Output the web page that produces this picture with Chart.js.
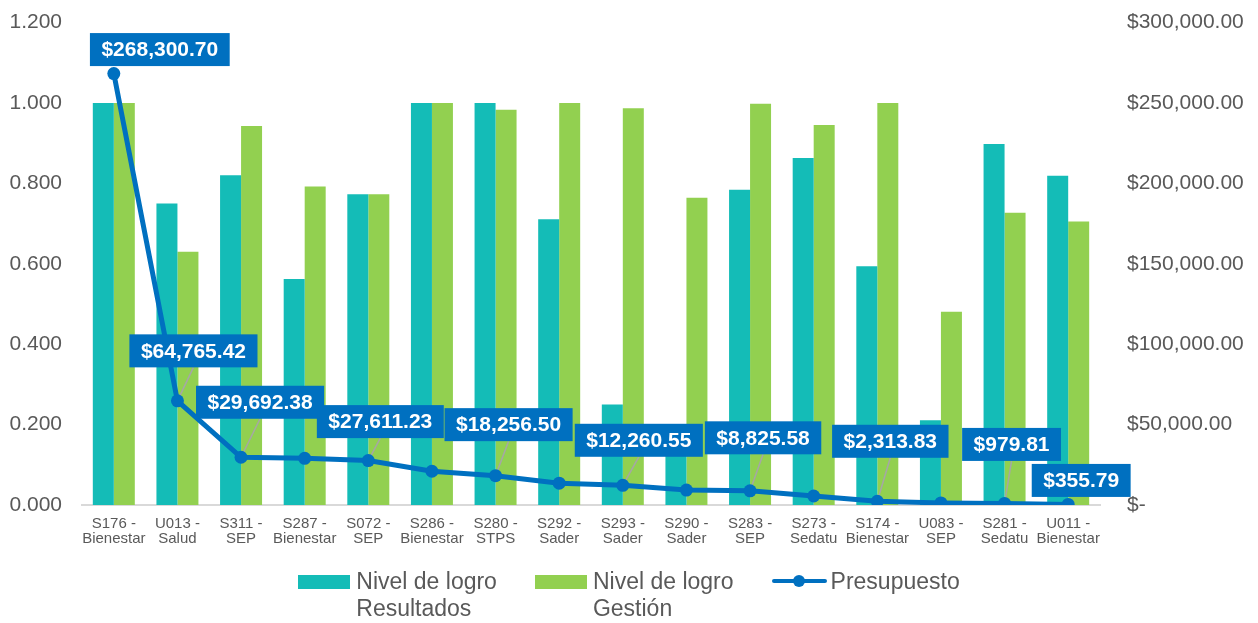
<!DOCTYPE html>
<html>
<head>
<meta charset="utf-8">
<script src="https://cdn.jsdelivr.net/npm/chart.js@4"></script>
<style>
  body { margin: 0; background: #fff; font-family: "Liberation Sans", Arial, sans-serif; }
  #wrap { position: relative; width: 1258px; height: 623px; overflow: hidden; }
  #chart { position: absolute; left: 0; top: -9px; }
  #legend { position: absolute; left: 0; top: 568px; width: 1258px; display: flex; justify-content: center; box-sizing: border-box; }
  .item { display: flex; align-items: flex-start; margin: 0 19px; }
  .sw { width: 52px; height: 14px; margin-top: 7px; margin-right: 6px; }
  .lineSw { position: relative; width: 55px; height: 27px; margin-right: 4px; }
  .lineSw .bar { position: absolute; left: 0; right: 0; top: 11px; height: 4px; background: #0070C0; border-radius: 2px; }
  .lineSw .dot { position: absolute; left: 21px; top: 7px; width: 12px; height: 12px; border-radius: 50%; background: #0070C0; }
  .txt { font-size: 23px; line-height: 27px; color: #595959; }
</style>
</head>
<body>
<div id="wrap">
  <canvas id="chart" width="1258" height="632"></canvas>
  <div id="legend"></div>
</div>
<script>
var codes = ["S176", "U013", "S311", "S287", "S072", "S286", "S280", "S292", "S293", "S290", "S283", "S273", "S174", "U083", "S281", "U011"];
var agencies = ["Bienestar", "Salud", "SEP", "Bienestar", "SEP", "Bienestar", "STPS", "Sader", "Sader", "Sader", "SEP", "Sedatu", "Bienestar", "SEP", "Sedatu", "Bienestar"];

var logroResultados = [1.0, 0.750, 0.820, 0.562, 0.773, 1.0, 1.0, 0.711, 0.250, 0.190, 0.784, 0.863, 0.594, 0.211, 0.898, 0.819];
var logroGestion = [1.0, 0.630, 0.943, 0.792, 0.773, 1.0, 0.983, 1.0, 0.987, 0.764, 0.998, 0.945, 1.0, 0.481, 0.727, 0.705];
var presupuesto = [268300.70, 64765.42, 29692.38, 29000, 27611.23, 21000, 18256.50, 13600, 12260.55, 9300, 8825.58, 5600, 2313.83, 1300, 979.81, 355.79];

var leftTicks = { min: 0, max: 1.2, step: 0.2 };
var rightTicks = { min: 0, max: 300000, step: 50000 };

// where each value box sits relative to its point (null = no label)
var labelOffsets = [[46, -24], [16, -50], [19, -55], null, [12, -39], null, [13, -51], null, [16, -45], null, [13, -53], null, [13, -60], null, [7, -59], [13, -24]];

var gray = "#595959";
var blue = "#0070C0";

function money(v) {
  return "$" + v.toLocaleString("en-US", { minimumFractionDigits: 2, maximumFractionDigits: 2 });
}

var labels = [];
for (var i = 0; i < codes.length; i++) {
  labels.push([codes[i] + " -", agencies[i]]);
}

function boxFor(ctx, meta, i) {
  var pt = meta.data[i];
  var off = labelOffsets[i];
  var text = money(presupuesto[i]);
  ctx.font = "bold 21px 'Liberation Sans', Arial, sans-serif";
  var w = ctx.measureText(text).width + 23;
  var h = 33;
  var cx = pt.x + off[0], cy = pt.y + off[1];
  return { text: text, x: cx - w / 2, y: cy - h / 2, w: w, h: h, cx: cx, cy: cy };
}

var valueLabels = {
  id: "valueLabels",
  beforeDatasetDraw: function (chart, args) {
    if (args.index !== 2) return;
    var ctx = chart.ctx;
    var meta = chart.getDatasetMeta(2);
    ctx.save();
    ctx.strokeStyle = "#A6A6A6";
    ctx.lineWidth = 1.5;
    for (var i = 0; i < presupuesto.length; i++) {
      if (!labelOffsets[i]) continue;
      var b = boxFor(ctx, meta, i);
      var pt = meta.data[i];
      var by = b.y + b.h;
      if (pt.y - by < 15) continue;
      ctx.beginPath();
      ctx.moveTo(pt.x, pt.y);
      ctx.lineTo(b.cx, by);
      ctx.stroke();
    }
    ctx.restore();
  },
  afterDatasetsDraw: function (chart) {
    var ctx = chart.ctx;
    var meta = chart.getDatasetMeta(2);
    ctx.save();
    for (var i = 0; i < presupuesto.length; i++) {
      if (!labelOffsets[i]) continue;
      var b = boxFor(ctx, meta, i);
      ctx.fillStyle = blue;
      ctx.fillRect(b.x, b.y, b.w, b.h);
      ctx.fillStyle = "#fff";
      ctx.textAlign = "center";
      ctx.textBaseline = "middle";
      ctx.fillText(b.text, b.cx, b.cy + 1);
    }
    ctx.restore();
  }
};

var chart = new Chart(document.getElementById("chart"), {
  type: "bar",
  data: {
    labels: labels,
    datasets: [
      {
        label: ["Nivel de logro", "Resultados"],
        data: logroResultados,
        backgroundColor: "#14BCB7",
        yAxisID: "y",
        order: 1,
        categoryPercentage: 0.66,
        barPercentage: 1.0
      },
      {
        label: ["Nivel de logro", "Gestión"],
        data: logroGestion,
        backgroundColor: "#92D050",
        yAxisID: "y",
        order: 1,
        categoryPercentage: 0.66,
        barPercentage: 1.0
      },
      {
        type: "line",
        label: "Presupuesto",
        data: presupuesto,
        borderColor: blue,
        backgroundColor: blue,
        borderWidth: 5,
        pointRadius: 6.5,
        pointBackgroundColor: blue,
        pointBorderWidth: 0,
        tension: 0,
        yAxisID: "y1",
        order: 0
      }
    ]
  },
  options: {
    responsive: false,
    animation: false,
    layout: { padding: { top: 4, left: 0, right: 0, bottom: 0 } },
    plugins: {
      legend: { display: false },
      tooltip: { enabled: false }
    },
    scales: {
      x: {
        grid: { display: false },
        border: { color: "#D9D9D9", width: 2 },
        ticks: {
          color: gray,
          font: { size: 15, family: "'Liberation Sans', Arial", lineHeight: 1.03 },
          padding: 3,
          maxRotation: 0,
          autoSkip: false
        },
        afterFit: function (s) { s.height = 118; }
      },
      y: {
        position: "left",
        min: leftTicks.min,
        max: leftTicks.max,
        grid: { display: false },
        border: { display: false },
        ticks: {
          stepSize: leftTicks.step,
          color: gray,
          font: { size: 21, family: "'Liberation Sans', Arial" },
          padding: 12,
          callback: function (v) { return v.toFixed(3); }
        },
        afterFit: function (s) { s.width = 82; }
      },
      y1: {
        position: "right",
        min: rightTicks.min,
        max: rightTicks.max,
        grid: { display: false },
        border: { display: false },
        ticks: {
          stepSize: rightTicks.step,
          color: gray,
          font: { size: 21, family: "'Liberation Sans', Arial" },
          padding: 19,
          callback: function (v) { return v === 0 ? "$-" : money(v); }
        },
        afterFit: function (s) { s.width = 158; }
      }
    }
  },
  plugins: [valueLabels]
});

// html legend built from the datasets
var legend = document.getElementById("legend");
chart.data.datasets.forEach(function (ds) {
  var item = document.createElement("div");
  item.className = "item";
  var sw = document.createElement("div");
  if (ds.type === "line") {
    sw.className = "lineSw";
    sw.innerHTML = '<div class="bar"></div><div class="dot"></div>';
  } else {
    sw.className = "sw";
    sw.style.background = ds.backgroundColor;
  }
  var txt = document.createElement("div");
  txt.className = "txt";
  txt.innerHTML = [].concat(ds.label).join("<br>");
  item.appendChild(sw);
  item.appendChild(txt);
  legend.appendChild(item);
});
</script>
</body>
</html>
